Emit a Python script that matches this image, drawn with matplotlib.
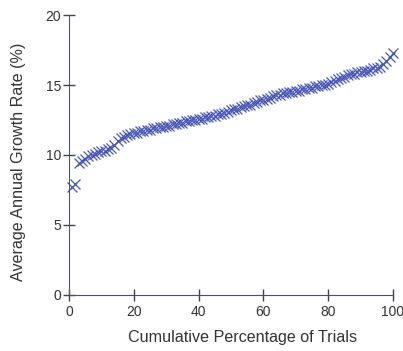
import matplotlib
matplotlib.use("Agg")
import matplotlib.pyplot as plt

trial_pct = list(range(1, 101))
growth_rate = [
    7.7, 7.9, 9.4, 9.6, 9.7, 9.9, 10.0, 10.1, 10.2, 10.3,
    10.3, 10.4, 10.5, 10.7, 11.0, 11.2, 11.3, 11.4, 11.5, 11.6,
    11.6, 11.7, 11.7, 11.8, 11.8, 11.9, 11.9, 12.0, 12.0, 12.1,
    12.1, 12.2, 12.2, 12.3, 12.3, 12.4, 12.4, 12.5, 12.5, 12.6,
    12.6, 12.7, 12.7, 12.8, 12.8, 12.9, 12.9, 13.0, 13.1, 13.2,
    13.3, 13.3, 13.4, 13.5, 13.6, 13.6, 13.7, 13.8, 13.9, 13.9,
    14.0, 14.1, 14.2, 14.3, 14.3, 14.4, 14.4, 14.5, 14.5, 14.6,
    14.6, 14.7, 14.7, 14.8, 14.8, 14.9, 14.9, 15.0, 15.0, 15.1,
    15.2, 15.3, 15.4, 15.5, 15.6, 15.7, 15.8, 15.8, 15.9, 15.9,
    16.0, 16.0, 16.1, 16.2, 16.2, 16.3, 16.5, 16.7, 17.0, 17.3,
]
x_ticks = [0, 20, 40, 60, 80, 100]
y_ticks = [0, 5, 10, 15, 20]

plt.rcParams['font.family'] = ['Liberation Sans', 'DejaVu Sans']

fig = plt.figure(figsize=(4.03, 3.51), dpi=100)
ax = fig.add_axes([0.171, 0.16, 0.804, 0.797])

ax.plot(trial_pct, growth_rate, linestyle='none', marker='x',
        markersize=7, markeredgewidth=0.9, color='#4656b8', clip_on=False)

ax.set_xlim(0, 100)
ax.set_ylim(0, 20)
ax.set_xticks(x_ticks)
ax.set_yticks(y_ticks)
for s in ['top', 'right']:
    ax.spines[s].set_visible(False)
ax.spines['left'].set_color('#555566')
ax.spines['bottom'].set_color('#4a4a8a')
ax.tick_params(direction='inout', length=9, width=1, colors='#444444',
               labelsize=10, labelcolor='#333333')
ax.tick_params(axis='y', pad=1)
ax.tick_params(axis='x', pad=3)

ax.set_xlabel('Cumulative Percentage of Trials', fontsize=11.6,
              color='#333333')
ax.set_ylabel('Average Annual Growth Rate (%)', fontsize=11.6,
              color='#333333')
ax.xaxis.set_label_coords(0.537, -0.125)
ax.yaxis.set_label_coords(-0.133, 0.475)

fig.savefig('out.png', dpi=100, facecolor='white')
